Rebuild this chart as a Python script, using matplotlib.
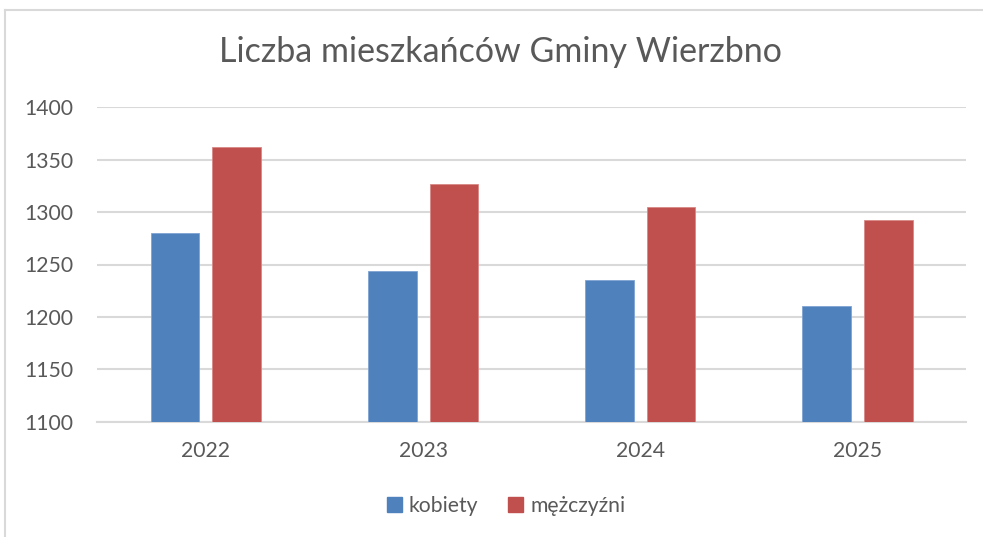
import matplotlib.pyplot as plt
from matplotlib.lines import Line2D
from matplotlib.patches import Patch
import numpy as np

# data
years = ["2022", "2023", "2024", "2025"]
kobiety = [1280, 1244, 1235, 1210]
mezczyzni = [1362, 1327, 1305, 1292]
series_names = ["kobiety", "mężczyźni"]
y_ticks = [1100, 1150, 1200, 1250, 1300, 1350, 1400]

BLUE = "#4F81BD"
RED = "#C0504D"
GRAY = "#595959"
GRID = "#D9D9D9"
FONT = ["Lato", "DejaVu Sans"]

plt.rcParams["font.family"] = FONT

W, H = 983, 537
fig = plt.figure(figsize=(W / 100, H / 100), dpi=100)
ax = fig.add_axes([97.3 / W, 1 - 421.7 / H, (966 - 97.3) / W, (421.7 - 107.3) / H])

x = np.arange(len(years))
bar_w = 0.224
off = 0.142
ax.bar(x - off, kobiety, bar_w, color=BLUE, edgecolor="#7EA3D3", linewidth=0.6, zorder=3)
ax.bar(x + off, mezczyzni, bar_w, color=RED, edgecolor="#D88886", linewidth=0.6, zorder=3)

ax.set_xlim(-0.5, len(years) - 0.5)
ax.set_ylim(y_ticks[0], y_ticks[-1])
ax.set_yticks(y_ticks)
ax.set_xticks(x, years)
ax.yaxis.grid(True, color=GRID, linewidth=1.5, zorder=0)
ax.set_axisbelow(True)
for s in ["top", "right", "left"]:
    ax.spines[s].set_visible(False)
ax.spines["bottom"].set_color(GRID)
ax.spines["bottom"].set_linewidth(1.5)
ax.tick_params(axis="both", length=0, labelsize=15.2, labelcolor=GRAY)
ax.tick_params(axis="y", pad=17)
ax.tick_params(axis="x", pad=14)

fig.text(500 / W, 1 - 52 / H, "Liczba mieszkańców Gminy Wierzbno",
         ha="center", va="center", fontsize=24.5, color=GRAY)

# outer chart border (only top and left visible in the crop)
fig.add_artist(Line2D([4.5 / W, 1], [1 - 9.5 / H, 1 - 9.5 / H], color=GRID, linewidth=1.5))
fig.add_artist(Line2D([4.5 / W, 4.5 / W], [0, 1 - 9.5 / H], color=GRID, linewidth=1.5))

handles = [Patch(color=BLUE), Patch(color=RED)]
fig.legend(handles, series_names, loc="center", bbox_to_anchor=(506 / W, 1 - 506 / H),
           ncol=2, frameon=False, fontsize=15.2, labelcolor=GRAY,
           handlelength=0.7, handleheight=0.7, handletextpad=0.35, columnspacing=1.4)

fig.savefig("out.png", dpi=100)
